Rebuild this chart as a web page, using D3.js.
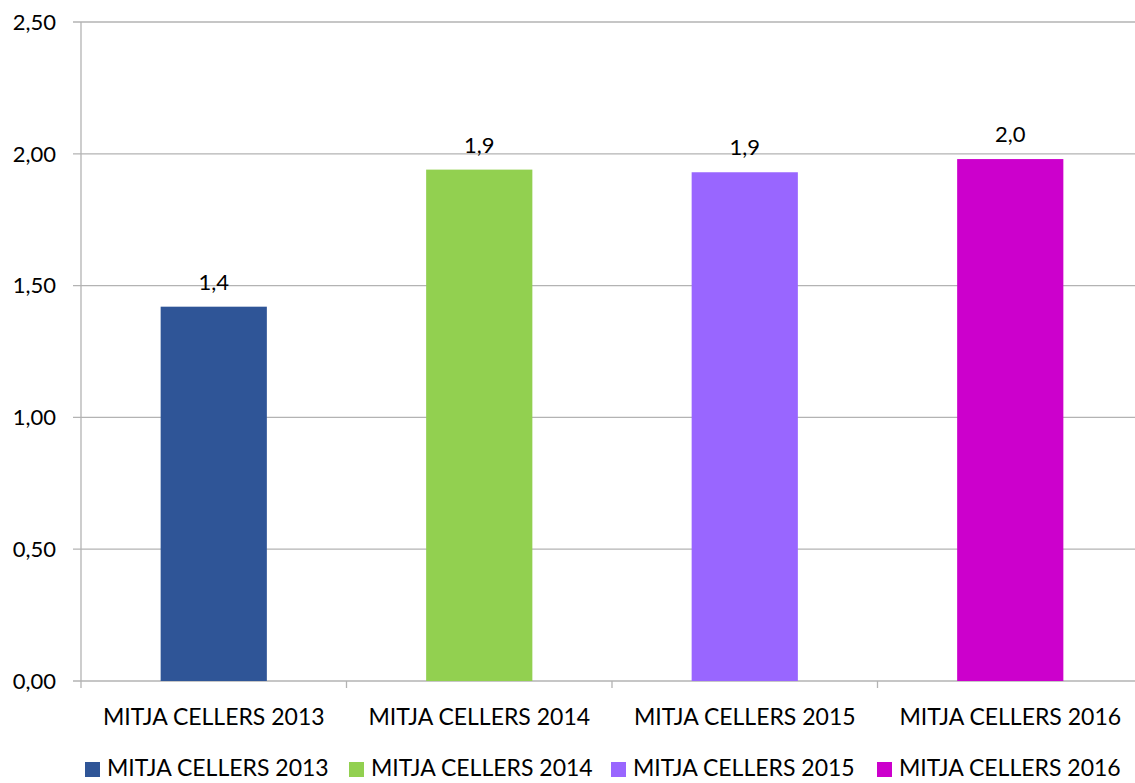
<!DOCTYPE html>
<html>
<head>
<meta charset="utf-8">
<script src="https://cdn.jsdelivr.net/npm/d3@7"></script>
<style>
  body { margin: 0; background: #fff; }
  text { font-family: "Lato", "Open Sans", sans-serif; fill: #000; }
</style>
</head>
<body>
<svg id="chart"></svg>
<script>
// Data
const categories = ["MITJA CELLERS 2013", "MITJA CELLERS 2014", "MITJA CELLERS 2015", "MITJA CELLERS 2016"];
const values = [1.42, 1.94, 1.93, 1.98];
const valueLabels = ["1,4", "1,9", "1,9", "2,0"];
const colors = ["#2F5597", "#92D050", "#9966FF", "#CC00CC"];
const yTicks = [0, 0.5, 1, 1.5, 2, 2.5];

const width = 1135;
const height = 783;
const margin = { left: 81, top: 22, right: -8, bottom: 102 };

const svg = d3.select("#chart")
    .attr("width", width)
    .attr("height", height);

const x = d3.scaleBand()
    .domain(categories)
    .range([margin.left, width - margin.right])
    .paddingInner(0.6)
    .paddingOuter(0.3);

const xOuter = d3.scaleBand()
    .domain(categories)
    .range([margin.left, width - margin.right]);

const y = d3.scaleLinear()
    .domain([0, 2.5])
    .range([height - margin.bottom, margin.top]);

const fmt = d => d.toFixed(2).replace(".", ",");

// Gridlines
svg.append("g")
    .selectAll("line")
    .data(yTicks)
    .join("line")
    .attr("x1", margin.left - 8)
    .attr("x2", width)
    .attr("y1", d => y(d))
    .attr("y2", d => y(d))
    .attr("stroke", "#b3b3b3")
    .attr("stroke-width", 1.3);

// Y axis line
svg.append("line")
    .attr("x1", margin.left).attr("x2", margin.left)
    .attr("y1", y(2.5)).attr("y2", y(0) + 7)
    .attr("stroke", "#b3b3b3")
    .attr("stroke-width", 1.3);

// Category tick marks
svg.append("g")
    .selectAll("line")
    .data(categories.slice(1))
    .join("line")
    .attr("x1", d => xOuter(d))
    .attr("x2", d => xOuter(d))
    .attr("y1", y(0))
    .attr("y2", y(0) + 7)
    .attr("stroke", "#b3b3b3")
    .attr("stroke-width", 1.3);

// Y tick labels
svg.append("g")
    .selectAll("text")
    .data(yTicks)
    .join("text")
    .attr("x", margin.left - 25)
    .attr("y", d => y(d))
    .attr("dy", "0.35em")
    .attr("text-anchor", "end")
    .attr("font-size", "22px")
    .text(fmt);

// Bars
svg.append("g")
    .selectAll("rect")
    .data(values)
    .join("rect")
    .attr("x", (d, i) => x(categories[i]))
    .attr("width", x.bandwidth())
    .attr("y", d => y(d))
    .attr("height", d => y(0) - y(d))
    .attr("fill", (d, i) => colors[i]);

// Value labels
svg.append("g")
    .selectAll("text")
    .data(values)
    .join("text")
    .attr("x", (d, i) => x(categories[i]) + x.bandwidth() / 2)
    .attr("y", d => y(d) - 17)
    .attr("text-anchor", "middle")
    .attr("font-size", "22px")
    .text((d, i) => valueLabels[i]);

// Category labels
svg.append("g")
    .selectAll("text")
    .data(categories)
    .join("text")
    .attr("x", d => xOuter(d) + xOuter.bandwidth() / 2)
    .attr("y", y(0) + 44)
    .attr("text-anchor", "middle")
    .attr("font-size", "23px")
    .text(d => d);

// Legend
const legendX = [85, 349, 611, 877];
const legend = svg.append("g")
    .selectAll("g")
    .data(categories)
    .join("g")
    .attr("transform", (d, i) => `translate(${legendX[i]},768)`);

legend.append("rect")
    .attr("x", 0)
    .attr("y", -6)
    .attr("width", 15)
    .attr("height", 15)
    .attr("fill", (d, i) => colors[i]);

legend.append("text")
    .attr("x", 22)
    .attr("y", 8)
    .attr("font-size", "23px")
    .text(d => d);
</script>
</body>
</html>
